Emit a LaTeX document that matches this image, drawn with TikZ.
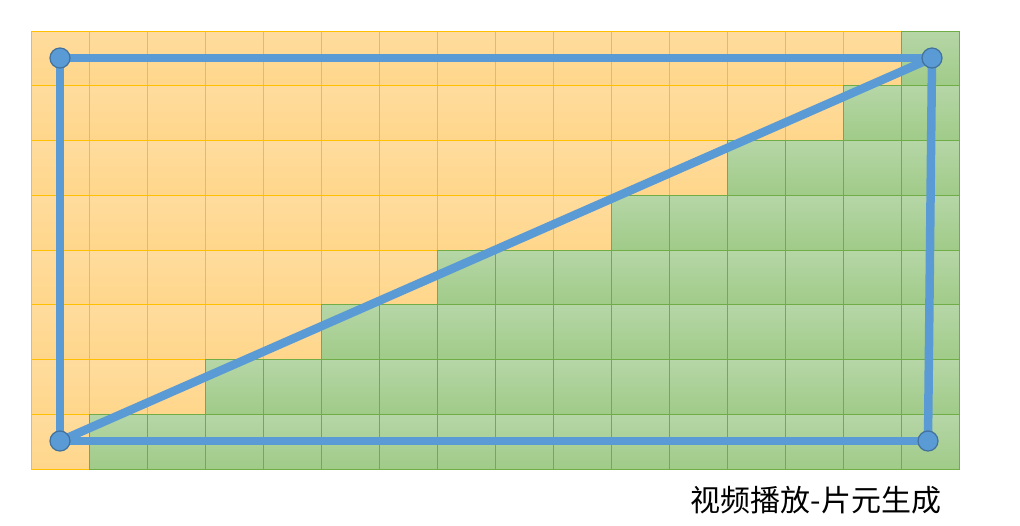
\documentclass[tikz,border=0pt]{standalone}
\usepackage{fontspec}
\newfontfamily\cjk{Noto Sans CJK SC}
\usetikzlibrary{positioning}
\definecolor{cellorange}{HTML}{FFD68A}
\definecolor{cellorangetop}{HTML}{FFDC9E}
\definecolor{orangeline}{HTML}{FFC000}
\definecolor{cellgreen}{HTML}{A0CB88}
\definecolor{cellgreentop}{HTML}{B6D6A7}
\definecolor{greenline}{HTML}{70AD47}
\definecolor{edgeblue}{HTML}{5B9BD5}
\definecolor{rimblue}{HTML}{41719C}

\begin{document}
\begin{tikzpicture}[
  x=1pt,
  y=-1pt,
  orangecell/.style={
    draw=orangeline,
    line width=0.8pt,
    top color=cellorangetop,
    bottom color=cellorange
  },
  greencell/.style={
    draw=greenline,
    line width=0.8pt,
    top color=cellgreentop,
    bottom color=cellgreen
  },
  edge/.style={
    draw=edgeblue,
    line width=8.5pt
  },
  vertex/.style={
    circle,
    fill=edgeblue,
    draw=rimblue,
    line width=1.2pt,
    inner sep=0pt,
    minimum size=20pt
  }
]
  \useasboundingbox (0,0) rectangle (1020,525);
  % cells, column / number of green cells from the bottom
  \foreach \col/\h in {0/0,1/1,2/1,3/2,4/2,5/3,6/3,7/4,8/4,9/4,10/5,11/5,12/6,13/6,14/7,15/8} {
    \foreach \row in {1,...,8} {
      \ifnum\row>\numexpr8-\h\relax
        \def\cellstyle{greencell}
      \else
        \def\cellstyle{orangecell}
      \fi
      \path[\cellstyle] ({31+58*\col},{31+54.75*(\row-1)})
        rectangle ++(58,54.75);
    }
  }
  % triangle setup
  \coordinate (tl) at (60,58);
  \coordinate (tr) at (932,58);
  \coordinate (bl) at (60,441);
  \coordinate (br) at (928,441);
  \draw[edge] (tl) -- (tr);
  \draw[edge] (tl) -- (bl);
  \draw[edge] (bl) -- (br);
  \draw[edge] (tr) -- (br);
  \draw[edge] (bl) -- (tr);
  \foreach \v in {tl,tr,bl,br}
    \node[vertex] at (\v) {};
  \node (caption) at (816,500) {\cjk\fontsize{30}{33}\selectfont 视频播放-片元生成};
\end{tikzpicture}
\end{document}
